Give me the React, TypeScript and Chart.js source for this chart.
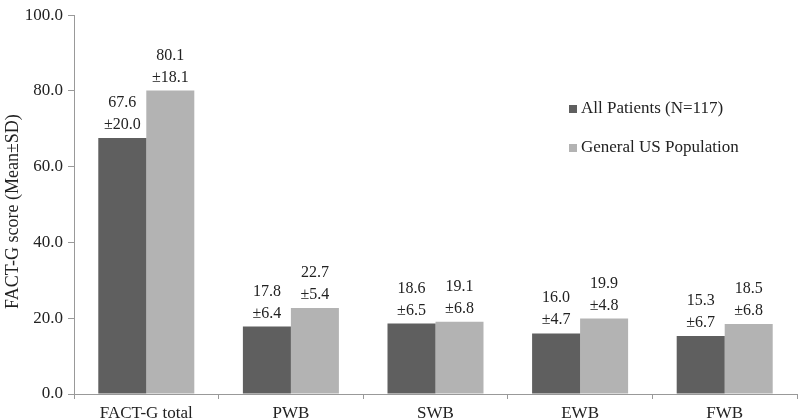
import React, { useEffect, useRef } from "react";
import { Chart, registerables } from "chart.js";

Chart.register(...registerables);

const categories = ["FACT-G total", "PWB", "SWB", "EWB", "FWB"];
const patientsMean = [67.6, 17.8, 18.6, 16.0, 15.3];
const patientsSD = [20.0, 6.4, 6.5, 4.7, 6.7];
const usMean = [80.1, 22.7, 19.1, 19.9, 18.5];
const usSD = [18.1, 5.4, 6.8, 4.8, 6.8];
const seriesNames = ["All Patients (N=117)", "General US Population"];
const yTitle = "FACT-G score (Mean±SD)";

const FONT = "'Liberation Serif', 'Times New Roman', serif";
const DARK = "#5f5f5f";
const LIGHT = "#b3b3b3";
const AXIS = "#999";

const labelPlugin = {
  id: "meanSdLabels",
  afterDatasetsDraw(chart: any) {
    const ctx = chart.ctx;
    const sds = [patientsSD, usSD];
    ctx.save();
    ctx.font = `16px ${FONT}`;
    ctx.fillStyle = "#222";
    ctx.textAlign = "center";
    ctx.textBaseline = "alphabetic";
    chart.data.datasets.forEach((ds: any, di: number) => {
      const meta = chart.getDatasetMeta(di);
      meta.data.forEach((bar: any, i: number) => {
        const x = bar.x;
        const y = bar.y;
        ctx.fillText(Number(ds.data[i]).toFixed(1), x, y - 31);
        ctx.fillText("±" + sds[di][i].toFixed(1), x, y - 9);
      });
    });
    ctx.restore();
  },
};

const legendPlugin = {
  id: "customLegend",
  afterDraw(chart: any) {
    const ctx = chart.ctx;
    const colors = [DARK, LIGHT];
    ctx.save();
    ctx.font = `17px ${FONT}`;
    ctx.textBaseline = "middle";
    ctx.textAlign = "left";
    seriesNames.forEach((name, i) => {
      const y = 109 + i * 39;
      ctx.fillStyle = colors[i];
      ctx.fillRect(569, y - 4, 8, 8);
      ctx.fillStyle = "#222";
      ctx.fillText(name, 581, y);
    });
    // y-axis title
    const ca = chart.chartArea;
    ctx.translate(13, (ca.top + ca.bottom) / 2 + 7);
    ctx.rotate(-Math.PI / 2);
    ctx.font = `18px ${FONT}`;
    ctx.textAlign = "center";
    ctx.fillText(yTitle, 0, 0);
    ctx.restore();
  },
};

export default function App() {
  const ref = useRef<HTMLCanvasElement | null>(null);
  useEffect(() => {
    if (!ref.current) return;
    const chart = new Chart(ref.current, {
      type: "bar",
      data: {
        labels: categories,
        datasets: [
          { label: seriesNames[0], data: patientsMean, backgroundColor: DARK, barPercentage: 1, categoryPercentage: 0.664 },
          { label: seriesNames[1], data: usMean, backgroundColor: LIGHT, barPercentage: 1, categoryPercentage: 0.664 },
        ],
      },
      options: {
        animation: false,
        responsive: false,
        maintainAspectRatio: false,
        layout: { padding: { top: 2, right: 3, left: 0, bottom: 0 } },
        plugins: { legend: { display: false }, tooltip: { enabled: false } },
        scales: {
          x: {
            grid: { display: true, drawOnChartArea: false, drawTicks: true, tickLength: 5, offset: true, color: AXIS },
            border: { display: true, color: AXIS },
            ticks: { color: "#222", font: { family: FONT, size: 17 }, padding: 4 },
            afterFit(scale: any) { scale.height = 26; },
          },
          y: {
            min: 0,
            max: 100,
            grid: { display: true, drawOnChartArea: false, drawTicks: true, tickLength: 6, color: AXIS },
            border: { display: true, color: AXIS },
            ticks: {
              stepSize: 20,
              color: "#222",
              font: { family: FONT, size: 17 },
              padding: 5,
              callback: (v: any) => Number(v).toFixed(1),
            },
            afterFit(scale: any) { scale.width = 74; },
          },
        },
      },
      plugins: [labelPlugin, legendPlugin],
    });
    return () => chart.destroy();
  }, []);
  return (
    <div style={{ position: "fixed", left: 0, top: 0, width: 800, height: 420, background: "#fff" }}>
      <canvas ref={ref} width={800} height={420} style={{ width: 800, height: 420 }} />
    </div>
  );
}
